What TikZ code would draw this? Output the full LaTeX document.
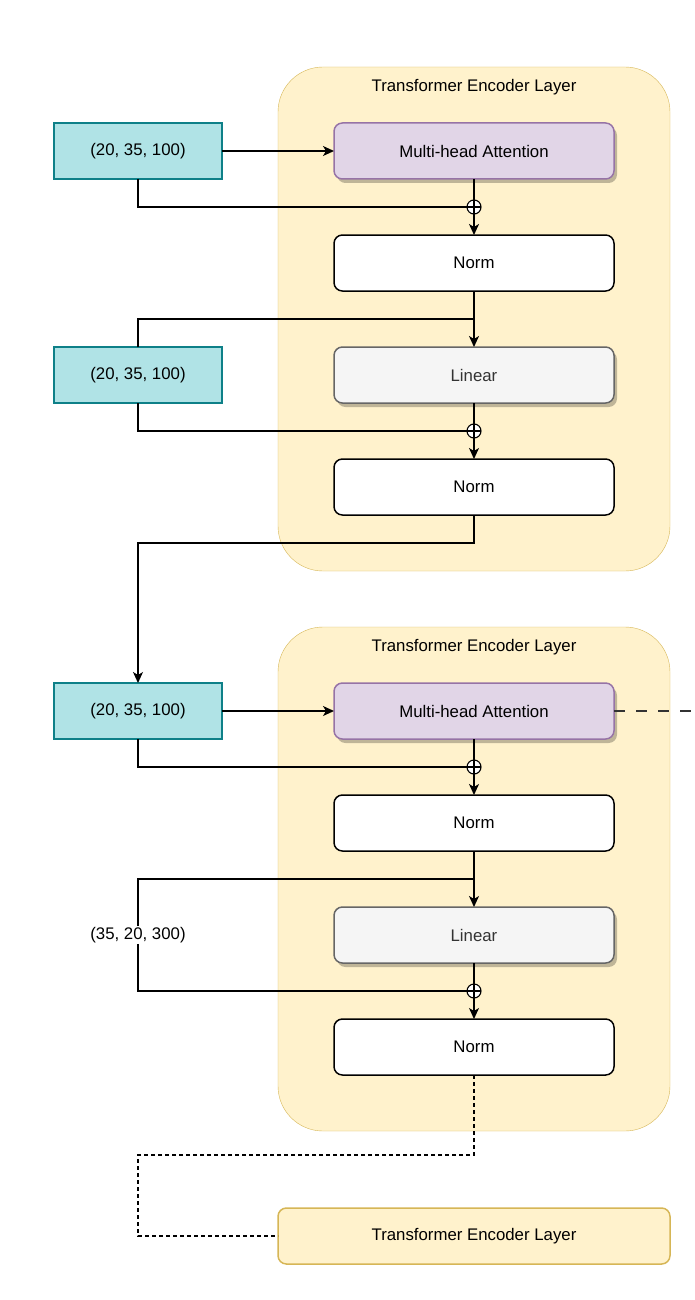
\documentclass[tikz,border=0pt]{standalone}
\usepackage{fontspec}
\setmainfont{Liberation Sans}
\usetikzlibrary{positioning,calc,fit,backgrounds,shadows,arrows.meta}
\definecolor{dimfill}{HTML}{B0E3E6}
\definecolor{dimline}{HTML}{0E8088}
\definecolor{attnfill}{HTML}{E1D5E7}
\definecolor{attnline}{HTML}{9673A6}
\definecolor{layerfill}{HTML}{FFF2CC}
\definecolor{layerline}{HTML}{D6B656}
\definecolor{linfill}{HTML}{F5F5F5}
\definecolor{linline}{HTML}{666666}
\definecolor{lintext}{HTML}{333333}
\tikzset{%
  >={Stealth[length=11pt,width=10pt,inset=3pt]},
  boxbase/.style  = {rectangle, minimum width=280pt, minimum height=56pt, inner sep=0pt, outer sep=0pt, align=center},
  softshadow/.style = {drop shadow={shadow xshift=3pt, shadow yshift=-4pt, fill=black, opacity=.25}},
  attnbox/.style  = {boxbase, draw=attnline, fill=attnfill, rounded corners=8.4pt, softshadow},
  normbox/.style  = {boxbase, draw=black, fill=white, rounded corners=8.4pt},
  linbox/.style   = {boxbase, draw=linline, fill=linfill, text=lintext, rounded corners=8.4pt, softshadow},
  dimbox/.style   = {rectangle, draw=dimline, fill=dimfill, minimum width=168pt, minimum height=56pt, inner sep=0pt, outer sep=0pt},
  layerbox/.style = {draw=layerline, fill=layerfill, rounded corners=45pt, inner sep=56pt, outer sep=0pt},
  addnode/.style  = {circle, draw, fill=white, minimum size=14pt, inner sep=0pt, outer sep=0pt, line width=1.1pt,
    path picture={\draw[line width=1.1pt] (path picture bounding box.north) -- (path picture bounding box.south)
      (path picture bounding box.west) -- (path picture bounding box.east);}},
  dotline/.style  = {dash pattern=on 4pt off 3pt},
  dashline/.style = {dash pattern=on 11pt off 11pt, draw=black!80}
}
\begin{document}
\begin{tikzpicture}[x=1pt,y=-1pt,font=\fontsize{16.8}{20}\selectfont,line width=1.5pt,node distance=56pt]
\useasboundingbox (0,0) rectangle (694,1300);
% first encoder layer
\node[attnbox] (mha1) at (474,151) {Multi-head Attention};
\node[normbox, below=of mha1] (norm1a) {Norm};
\node[linbox, below=of norm1a] (lin1) {Linear};
\node[normbox, below=of lin1] (norm1b) {Norm};
\node[addnode] (add1) at ($(mha1.south)!.5!(norm1a.north)$) {};
\node[addnode] (add2) at ($(lin1.south)!.5!(norm1b.north)$) {};
\coordinate (split1) at ($(norm1a.south)!.5!(lin1.north)$);
\node[dimbox, left=112pt of mha1] (in1) {(20, 35, 100)};
\node[dimbox, left=112pt of lin1] (in2) {(20, 35, 100)};
% second encoder layer
\node[attnbox, below=168pt of norm1b] (mha2) {Multi-head Attention};
\node[normbox, below=of mha2] (norm2a) {Norm};
\node[linbox, below=of norm2a] (lin2) {Linear};
\node[normbox, below=of lin2] (norm2b) {Norm};
\node[addnode] (add3) at ($(mha2.south)!.5!(norm2a.north)$) {};
\node[addnode] (add4) at ($(lin2.south)!.5!(norm2b.north)$) {};
\coordinate (split2) at ($(norm2a.south)!.5!(lin2.north)$);
\node[dimbox, left=112pt of mha2] (in3) {(20, 35, 100)};
\node[fill=white, inner sep=1pt, outer sep=0pt] (skip2) at (in3 |- lin2) {(35, 20, 300)};
% last layer
\node[draw=layerline, fill=layerfill, rounded corners=8.4pt, minimum width=392pt, minimum height=56pt,
  outer sep=0pt, below=133pt of norm2b] (enc3) {Transformer Encoder Layer};
\begin{scope}[on background layer]
\node[layerbox, fit=(mha1)(norm1b)] (enc1) {};
\node[layerbox, fit=(mha2)(norm2b)] (enc2) {};
\end{scope}
\node (title1) at ($(enc1.north)+(0,20)$) {Transformer Encoder Layer};
\node (title2) at ($(enc2.north)+(0,20)$) {Transformer Encoder Layer};
% connectors, first layer
\draw[->] (in1) -- (mha1);
\draw (mha1) -- (add1);
\draw[->] (add1) -- (norm1a);
\draw (in1) |- (add1);
\draw[->] (norm1a) -- (lin1);
\draw (in2) |- (split1);
\draw (in2) |- (add2);
\draw (lin1) -- (add2);
\draw[->] (add2) -- (norm1b);
\coordinate (turn1) at ($(norm1b.south)+(0,28)$);
\draw[->] (norm1b) -- (turn1) -| (in3);
% connectors, second layer
\draw[->] (in3) -- (mha2);
\draw (mha2) -- (add3);
\draw[->] (add3) -- (norm2a);
\draw (in3) |- (add3);
\draw[->] (norm2a) -- (lin2);
\draw (skip2) |- (split2);
\draw (skip2) |- (add4);
\draw (lin2) -- (add4);
\draw[->] (add4) -- (norm2b);
\coordinate (mhaout) at ($(mha2.east)+(80,0)$);
\draw[dashline] (mha2) -- (mhaout);
\coordinate (turn2) at ($(norm2b.south)+(0,80)$);
\coordinate (corner2) at (in3 |- enc3);
\draw[dotline] (norm2b) -- (turn2) -| (corner2) -- (enc3);
\end{tikzpicture}
\end{document}
